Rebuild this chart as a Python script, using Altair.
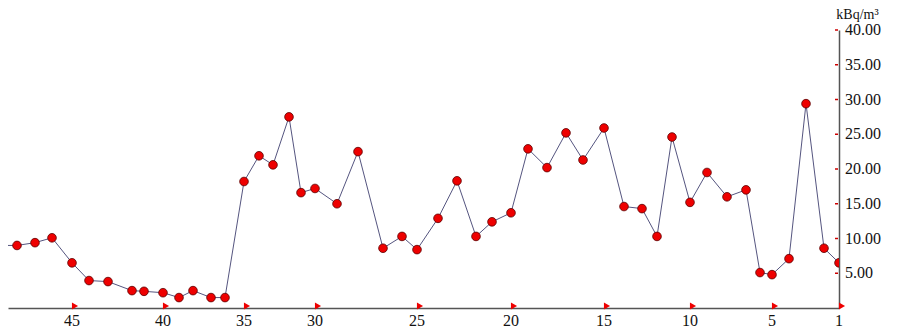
import altair as alt
import pandas as pd

# Sample numbers (right to left: 1 is the most recent)
samples = list(range(49, 0, -1))
# Relative sampling time (irregular spacing)
t = [-17, 0, 18, 35, 55, 72, 91, 115, 127, 146, 162, 176, 194, 208, 227, 242, 256,
     272, 284, 298, 320, 341, 366, 385, 400, 421, 440, 459, 475, 494, 511, 530,
     549, 566, 587, 607, 625, 640, 655, 673, 690, 710, 729, 743, 755, 772, 789,
     807, 822]
# Concentration in kBq/m3
conc = [9.0, 9.0, 9.4, 10.1, 6.5, 3.95, 3.8, 2.5, 2.4, 2.2, 1.5, 2.5, 1.5, 1.5,
        18.2, 21.9, 20.6, 27.5, 16.6, 17.2, 15.0, 22.5, 8.6, 10.3, 8.4, 12.9,
        18.3, 10.3, 12.4, 13.7, 22.9, 20.2, 25.2, 21.3, 25.9, 14.6, 14.3, 10.3,
        24.6, 15.2, 19.5, 16.0, 17.0, 5.1, 4.8, 7.1, 29.4, 8.6, 6.5]

x_tick_samples = [45, 40, 35, 30, 25, 20, 15, 10, 5, 1]
y_ticks = [5, 10, 15, 20, 25, 30, 35, 40]

df = pd.DataFrame({"sample": samples, "t": t, "conc": conc})
pos = dict(zip(samples, t))
xt = pd.DataFrame({"sample": x_tick_samples, "t": [pos[s] for s in x_tick_samples]})
yt = pd.DataFrame({"v": y_ticks})

W, H = 831, 278
FONT = "Liberation Serif, Times New Roman, serif"

xscale = alt.Scale(domain=[-9, 822], nice=False)
yscale = alt.Scale(domain=[0, 40], nice=False)

xaxis = alt.Axis(values=[pos[s] for s in x_tick_samples], labels=False,
                 grid=False, ticks=False, domainColor="#555555", domainWidth=1.5,
                 title=None)
yaxis = alt.Axis(orient="right", values=y_ticks, labels=False, grid=False, ticks=False,
                 domainColor="#555555", domainWidth=1.5,
                 title="kBq/m³", titleAngle=0, titleAlign="center",
                 titleBaseline="alphabetic", titleX=18, titleY=-12,
                 titleFont=FONT, titleFontSize=14, titleFontWeight="normal",
                 titleColor="#111111")

base = alt.Chart(df)
line = base.mark_line(color="#55557f", strokeWidth=1, clip=True).encode(
    x=alt.X("t:Q", scale=xscale, axis=xaxis),
    y=alt.Y("conc:Q", scale=yscale, axis=yaxis),
)
pts = base.mark_point(filled=True, fill="#ee0000", stroke="#5a0000", strokeWidth=0.8,
                      size=75, opacity=1, clip=True).encode(
    x=alt.X("t:Q", scale=xscale),
    y=alt.Y("conc:Q", scale=yscale),
)
tri = alt.Chart(xt).mark_point(shape="triangle-right", filled=True, color="#ee0000",
                               size=50, opacity=1, xOffset=3).encode(
    x=alt.X("t:Q", scale=xscale),
    y=alt.value(H - 2),
)
xlabels = alt.Chart(xt).mark_text(font=FONT, fontSize=16, color="#111111",
                                  align="center", baseline="top").encode(
    x=alt.X("t:Q", scale=xscale),
    y=alt.value(H + 5),
    text=alt.Text("sample:N"),
)
yticks = alt.Chart(yt).mark_rule(color="#cc0000", strokeWidth=1.5).encode(
    x=alt.value(W - 4), x2=alt.value(W - 1),
    y=alt.Y("v:Q", scale=yscale),
)
ylabels = alt.Chart(yt).mark_text(font=FONT, fontSize=16, color="#111111",
                                  align="left", baseline="middle").encode(
    x=alt.value(W + 6),
    y=alt.Y("v:Q", scale=yscale),
    text=alt.Text("v:Q", format=".2f"),
)

chart = alt.layer(line, pts, tri, yticks, xlabels, ylabels).properties(
    width=W, height=H,
    autosize=alt.AutoSizeParams(type="none"),
    padding={"left": 0, "top": 22, "right": 56, "bottom": 20},
).configure_view(stroke=None)

chart.save("out.html", embed_options={"renderer": "svg", "actions": False})
